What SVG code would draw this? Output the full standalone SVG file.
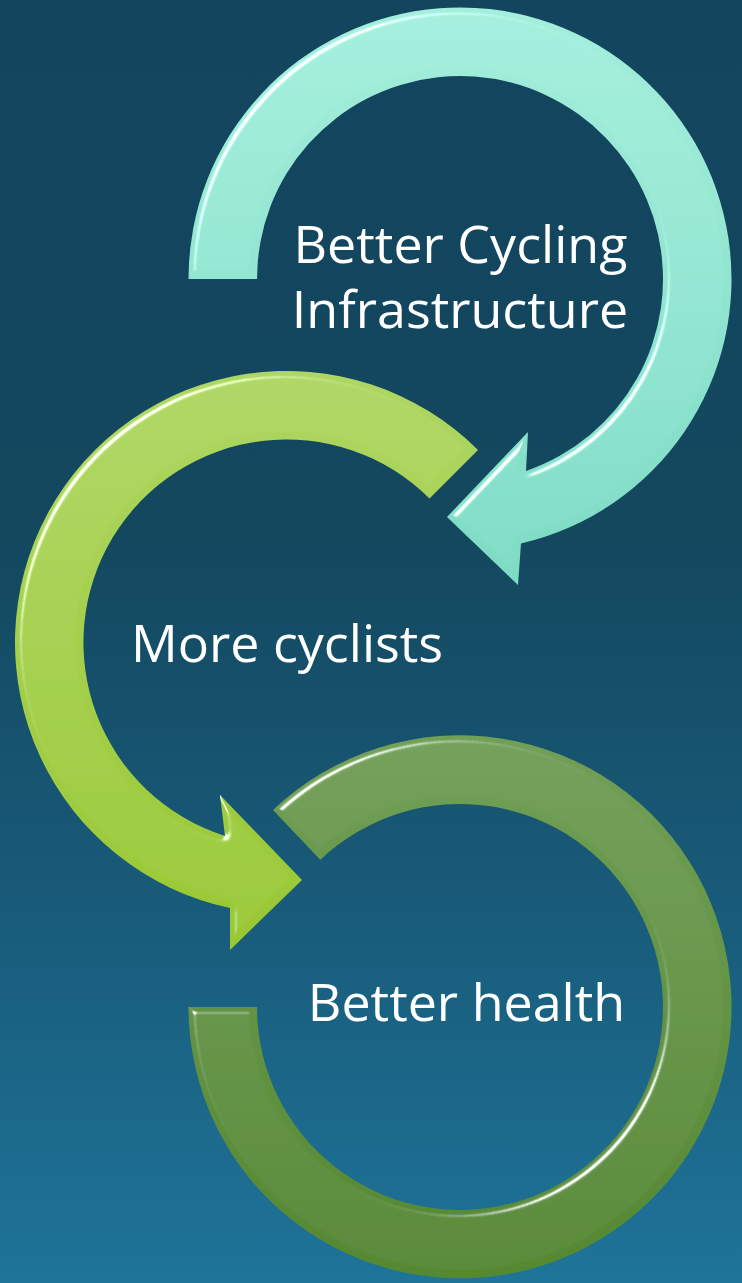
<svg xmlns="http://www.w3.org/2000/svg" width="742" height="1283" viewBox="0 0 742 1283">
  <defs>
    <linearGradient id="bg" x1="0" y1="0" x2="0" y2="1">
      <stop offset="0" stop-color="#13455e"/>
      <stop offset="0.42" stop-color="#13485f"/>
      <stop offset="0.72" stop-color="#195c7b"/>
      <stop offset="1" stop-color="#1e7499"/>
    </linearGradient>
    <linearGradient id="fill-teal" gradientUnits="userSpaceOnUse" x1="0" y1="7" x2="0" y2="585">
      <stop offset="0" stop-color="#a4eedc"/>
      <stop offset="1" stop-color="#7edbc4"/>
    </linearGradient>
    <linearGradient id="fill-lime" gradientUnits="userSpaceOnUse" x1="0" y1="370" x2="0" y2="950">
      <stop offset="0" stop-color="#aed663"/>
      <stop offset="1" stop-color="#99c832"/>
    </linearGradient>
    <linearGradient id="fill-green" gradientUnits="userSpaceOnUse" x1="0" y1="737" x2="0" y2="1278">
      <stop offset="0" stop-color="#719f57"/>
      <stop offset="1" stop-color="#558831"/>
    </linearGradient>
    <!-- soft rounded bevel lit from the upper left; flat faces stay unlit -->
    <filter id="bevel" filterUnits="userSpaceOnUse" x="0" y="0" width="742" height="1283">
      <feGaussianBlur in="SourceAlpha" stdDeviation="3.2" result="blur"/>
      <feSpecularLighting in="blur" surfaceScale="9" specularConstant="1.3" specularExponent="28" lighting-color="#ffffff" result="spec">
        <feDistantLight azimuth="225" elevation="25"/>
      </feSpecularLighting>
      <feComposite in="spec" in2="SourceAlpha" operator="in" result="specIn"/>
      <feComposite in="SourceGraphic" in2="specIn" operator="arithmetic" k1="0" k2="1" k3="1.1" k4="0"/>
    </filter>
    <style>
      .label { font-family: "Open Sans", "Liberation Sans", sans-serif; font-size: 52px; fill: #ffffff; text-anchor: middle; }
      .arc { filter: url(#bevel); }
    </style>
  </defs>

  <rect x="0" y="0" width="742" height="1283" fill="url(#bg)"/>

  <!-- first step: curved arrow over the top, head pointing down-left -->
  <g id="node-infrastructure">
    <path class="arc" fill="url(#fill-teal)" d="M 188.5 279 A 271.5 271.5 0 1 1 521 543.5 L 518 585 L 447 517 L 528 432 L 526 471 A 203 203 0 1 0 257 279 Z"/>
    <text class="label" x="460.5" y="263">Better Cycling</text>
    <text class="label" x="460" y="328">Infrastructure</text>
  </g>

  <!-- second step: curved arrow around the left, head pointing right -->
  <g id="node-cyclists">
    <path class="arc" fill="url(#fill-lime)" d="M 478 450 A 271.5 271.5 0 1 0 230 908 L 230 950 L 302 880 L 220 795 L 225 836 A 203 203 0 1 1 429.5 498.5 Z"/>
    <text class="label" x="287" y="662">More cyclists</text>
  </g>

  <!-- third step: open ring without a head -->
  <g id="node-health">
    <path class="arc" fill="url(#fill-green)" d="M 273 810 A 271.5 271.5 0 1 1 188.5 1007 L 257 1007 A 203 203 0 1 0 320.3 859.7 Z"/>
    <text class="label" x="466.5" y="1021">Better health</text>
  </g>

  <g id="connectors"/>
</svg>
